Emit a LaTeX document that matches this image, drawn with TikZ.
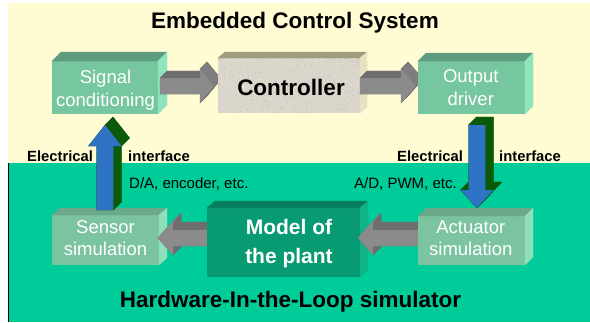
\documentclass[tikz,border=0pt]{standalone}
\usepackage{fontspec}
\setmainfont{Liberation Sans}
\usetikzlibrary{calc}

\definecolor{paleyellow}{HTML}{FFFCD4}
\definecolor{hilgreen}{HTML}{00CC99}
\definecolor{ecsfront}{HTML}{76C69F}
\definecolor{ecstop}{HTML}{5E9C80}
\definecolor{ecsside}{HTML}{8FE5BB}
\definecolor{hilfront}{HTML}{7CC4A1}
\definecolor{hiltop}{HTML}{69A98A}
\definecolor{hilside}{HTML}{8EDFBA}
\definecolor{plantfront}{HTML}{089B73}
\definecolor{planttop}{HTML}{067E5E}
\definecolor{plantside}{HTML}{0EB387}
\definecolor{ctlfront}{HTML}{DBD6CC}
\definecolor{ctltop}{HTML}{9E9C7C}
\definecolor{ctlside}{HTML}{E5E2BE}
\definecolor{speckdark}{HTML}{B9B2A6}
\definecolor{specklight}{HTML}{F2EEE6}
\definecolor{arrowgray}{HTML}{8B8B8B}
\definecolor{arrowdark}{HTML}{6E6E6E}
\definecolor{arrowmid}{HTML}{7E7E7E}
\definecolor{ifblue}{HTML}{2E73C5}
\definecolor{ifgreen}{HTML}{0A5A0A}

% half widths of the block arrows
\def\ashaft{8pt}\def\ahead{17pt}
\def\bshaft{8.3pt}\def\bhead{16.5pt}

% corner points q1..q7 of a horizontal block arrow: tail, apex, signed head length
\newcommand\hblock[3]{%
  \path let \p1=(#1), \p2=(#2) in
    coordinate (q1) at ({\x1},{\y2+\ashaft})
    coordinate (q2) at ({\x2-(#3)},{\y2+\ashaft})
    coordinate (q3) at ({\x2-(#3)},{\y2+\ahead})
    coordinate (q4) at ({\x2},{\y2})
    coordinate (q5) at ({\x2-(#3)},{\y2-\ahead})
    coordinate (q6) at ({\x2-(#3)},{\y2-\ashaft})
    coordinate (q7) at ({\x1},{\y2-\ashaft});}
% the same for a vertical block arrow
\newcommand\vblock[3]{%
  \path let \p1=(#1), \p2=(#2) in
    coordinate (q1) at ({\x2-\bshaft},{\y1})
    coordinate (q2) at ({\x2-\bshaft},{\y2-(#3)})
    coordinate (q3) at ({\x2-\bhead},{\y2-(#3)})
    coordinate (q4) at ({\x2},{\y2})
    coordinate (q5) at ({\x2+\bhead},{\y2-(#3)})
    coordinate (q6) at ({\x2+\bshaft},{\y2-(#3)})
    coordinate (q7) at ({\x2+\bshaft},{\y1});}
% extruded body of the current arrow, then its front face
\newcommand\extrude[2]{%
  \filldraw[#1] ($(q1)+(#2)$) -- ($(q2)+(#2)$) -- ($(q3)+(#2)$) -- ($(q4)+(#2)$)
     -- ($(q5)+(#2)$) -- ($(q6)+(#2)$) -- ($(q7)+(#2)$) -- cycle;
  \foreach \i/\j in {1/2,2/3,3/4,4/5,5/6,6/7,7/1}
    \filldraw[#1] (q\i) -- (q\j) -- ($(q\j)+(#2)$) -- ($(q\i)+(#2)$) -- cycle;}
\newcommand\frontface[1]{%
  \fill[#1] (q1) -- (q2) -- (q3) -- (q4) -- (q5) -- (q6) -- (q7) -- cycle;}
% a box: front face, top face and right face of a named node
\newcommand\drawbox[5]{%
  \fill[#3] (#1.north west) rectangle (#1.south east);
  \filldraw[facecol=#4] (#1.north west) -- ($(#1.north west)+(#2)$)
     -- ($(#1.north east)+(#2)$) -- (#1.north east) -- cycle;
  \filldraw[facecol=#5] (#1.north east) -- ($(#1.north east)+(#2)$)
     -- ($(#1.south east)+(#2)$) -- (#1.south east) -- cycle;}

\tikzset{
  slot/.style={inner sep=0pt, outer sep=0pt, anchor=north west},
  facecol/.style={fill=#1, draw=#1, line width=0.3pt, line join=round},
  graybody/.style={facecol=arrowdark},
  bluebody/.style={facecol=ifgreen},
  heading/.style={font=\fontsize{22.5}{27}\selectfont\bfseries, anchor=base, inner sep=0pt},
  boxtext/.style={text=white, font=\fontsize{18.5}{23}\selectfont, align=center, inner sep=0pt},
  iflabel/.style={font=\fontsize{14.8}{17}\selectfont\bfseries, anchor=base west, inner sep=0pt},
  sigtext/.style={font=\fontsize{15}{17}\selectfont, anchor=base west, inner sep=0pt},
}

\begin{document}
\begin{tikzpicture}[x=1pt, y=-1pt]
\useasboundingbox (0,0) rectangle (590,322);
\fill[white] (0,0) rectangle (590,322);
% the two regions: embedded system and simulator
\fill[paleyellow] (8,3) rectangle (590,163);
\fill[hilgreen] (8,163) rectangle (590,322);
\draw[black, line width=0.8pt] (8.4,163) -- (8.4,322);

% front faces of the blocks (placed first, painted below)
\path node[slot, minimum width=106pt, minimum height=53pt] (sig) at (52,61) {}
      node[slot, minimum width=142pt, minimum height=55pt] (ctl) at (218,58) {}
      node[slot, minimum width=107pt, minimum height=53pt] (out) at (418,61) {}
      node[slot, minimum width=107pt, minimum height=50pt] (sen) at (52,215) {}
      node[slot, minimum width=153pt, minimum height=69pt] (mod) at (207,208) {}
      node[slot, minimum width=107pt, minimum height=49pt] (act) at (418,216) {};

% ---- upper row
\drawbox{sig}{9,-9}{ecsfront}{ecstop}{ecsside}

\hblock{$(sig.east)+(2,-1.5)$}{$(ctl.west)+(-4,0.5)$}{14pt}
\extrude{graybody}{7,-7}
\filldraw[facecol=arrowmid] (q3) -- (q4) -- ($(q4)+(7,-7)$) -- ($(q3)+(7,-7)$) -- cycle;
\frontface{arrowgray}

\drawbox{ctl}{7,-6}{ctlfront}{ctltop}{ctlside}
\begin{scope}
  \clip (ctl.south west) rectangle (ctl.north east);
  \pgfmathsetseed{11}
  \foreach \k in {1,...,260}{
    \fill[speckdark] ($(ctl.south west)+({142*rnd},{-55*rnd})$) circle (0.45pt);
    \fill[specklight] ($(ctl.south west)+({142*rnd},{-55*rnd})$) circle (0.45pt);
  }
\end{scope}

\hblock{$(ctl.east)+(0,0.5)$}{$(out.west)+(-2,-1.5)$}{15pt}
\extrude{graybody}{7,-7}
\filldraw[facecol=arrowmid] (q3) -- (q4) -- ($(q4)+(7,-7)$) -- ($(q3)+(7,-7)$) -- cycle;
\frontface{arrowgray}

\drawbox{out}{8,-8}{ecsfront}{ecstop}{ecsside}

% ---- lower row
\drawbox{sen}{8,-7}{hilfront}{hiltop}{hilside}

\hblock{mod.west}{$(sen.east)+(-1,-2)$}{-15pt}
\extrude{graybody}{8,-8}
\filldraw[facecol=arrowmid] (q3) -- (q4) -- ($(q4)+(8,-8)$) -- ($(q3)+(8,-8)$) -- cycle;
\frontface{arrowgray}

\drawbox{mod}{8,-7}{plantfront}{planttop}{plantside}

\hblock{act.west}{$(mod.east)+(-2,-4.5)$}{-15pt}
\extrude{graybody}{8,-8}
\filldraw[facecol=arrowmid] (q3) -- (q4) -- ($(q4)+(8,-8)$) -- ($(q3)+(8,-8)$) -- cycle;
\frontface{arrowgray}

\drawbox{act}{8,-8}{hilfront}{hiltop}{hilside}

% ---- electrical interface arrows
\vblock{$(sen.north)+(0,-5)$}{$(sig.south)+(0,11)$}{21pt}
\extrude{bluebody}{8,-8}
\frontface{ifblue}

\vblock{$(out.south)+(5,11)$}{$(act.north)+(5.5,-8)$}{-18pt}
\extrude{bluebody}{8,-8}
\frontface{ifblue}

% ---- texts
\node[heading] (ttl) at (295,28) {Embedded Control System};
\node[heading] (hil) at (290.5,307) {Hardware-In-the-Loop simulator};

\node[boxtext] (sigtxt) at (105.5,90.1) {Signal\\conditioning};
\node[boxtext] (outtxt) at (470.8,87.7) {Output\\driver};
\node[heading] (ctltxt) at (291,95) {Controller};
\node[boxtext, font=\fontsize{18.5}{21.5}\selectfont] (sentxt) at (105.5,238) {Sensor\\simulation};
\node[boxtext, font=\fontsize{18.5}{21.5}\selectfont] (acttxt) at (470.8,238.1) {Actuator\\simulation};
\node[boxtext, font=\fontsize{21}{29}\selectfont\bfseries] (modtxt) at (289,243.3) {Model of\\the plant};

\node[iflabel] (el1) at (27,161) {Electrical};
\node[iflabel] (if1) at (128,161) {interface};
\node[iflabel] (el2) at (397,161) {Electrical};
\node[iflabel] (if2) at (499,161) {interface};
\node[sigtext] (da) at (129,188.5) {D/A, encoder, etc.};
\node[sigtext] (ad) at (354,188.5) {A/D, PWM, etc.};
\end{tikzpicture}
\end{document}
